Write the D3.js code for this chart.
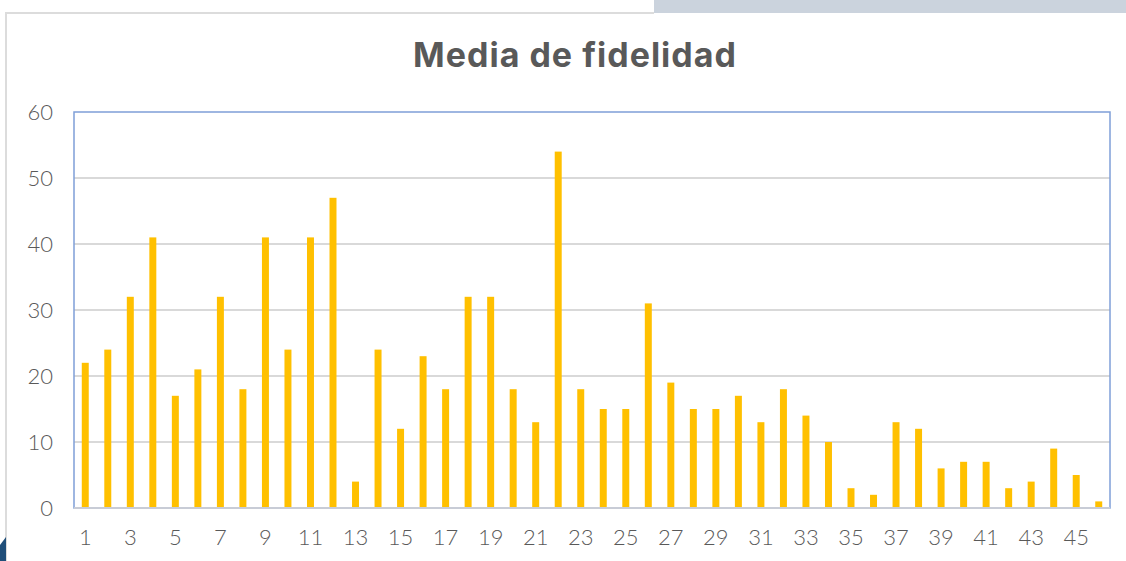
<!DOCTYPE html>
<html>
<head>
<meta charset="utf-8">
<script src="https://cdn.jsdelivr.net/npm/d3@7"></script>
<style>
    html, body {margin: 0; padding: 0; background: #fff;}
    svg {display: block;}
</style>
</head>
<body>
<svg id="chart" width="1126" height="561"></svg>
<script>
// categorias 1..46 y su media
const categories = d3.range(1, 47).map(String);
const values = [22, 24, 32, 41, 17, 21, 32, 18, 41, 24, 41, 47, 4, 24, 12, 23, 18, 32, 32, 18,
    13, 54, 18, 15, 15, 31, 19, 15, 15, 17, 13, 18, 14, 10, 3, 2, 13, 12, 6, 7,
    7, 3, 4, 9, 5, 1];
const yTicks = [0, 10, 20, 30, 40, 50, 60];
const title = "Media de fidelidad";

const svg = d3.select("#chart");
const W = 1126, H = 561;
const marge = {top: 112, right: 16, bottom: 53, left: 74};

// marco de fondo
svg.append("rect").attr("x", 654).attr("y", 0).attr("width", W - 654).attr("height", 13)
    .attr("fill", "#cbd3dd");
svg.append("path")
    .attr("d", "M654,13 L6,13 L6," + H)
    .attr("fill", "none").attr("stroke", "#dcdcdc").attr("stroke-width", 2);
svg.append("path")
    .attr("d", "M0,545 L6,537 L6,561 L0,561 Z")
    .attr("fill", "#1f4e79");

svg.append("text")
    .attr("x", 575).attr("y", 67)
    .attr("text-anchor", "middle")
    .attr("font-family", "Inter, 'Open Sans', sans-serif")
    .attr("font-weight", 700)
    .attr("font-size", 34)
    .attr("letter-spacing", 1)
    .attr("fill", "#595959")
    .text(title);

const x = d3.scaleBand()
    .domain(categories)
    .range([marge.left, W - marge.right])
    .paddingInner(0.69).paddingOuter(0.345);

const y = d3.scaleLinear()
    .domain([0, 60])
    .range([H - marge.bottom, marge.top]);

const g = svg.append("g");

// lineas de cuadricula
g.append("g").selectAll("line")
    .data(yTicks.filter(d => d > 0 && d < 60))
    .join("line")
    .attr("x1", marge.left).attr("x2", W - marge.right)
    .attr("y1", d => y(d)).attr("y2", d => y(d))
    .attr("stroke", "#d9d9d9").attr("stroke-width", 2);

// barras
g.append("g").selectAll("rect")
    .data(values)
    .join("rect")
    .attr("x", (d, i) => x(categories[i]))
    .attr("width", x.bandwidth())
    .attr("y", d => y(d))
    .attr("height", d => y(0) - y(d))
    .attr("fill", "#ffc000");

// borde del area de trazado
g.append("rect")
    .attr("x", marge.left).attr("y", marge.top)
    .attr("width", W - marge.right - marge.left)
    .attr("height", y(0) - marge.top)
    .attr("fill", "none").attr("stroke", "#7f9fd8").attr("stroke-width", 1.5);
g.append("line")
    .attr("x1", marge.left).attr("x2", W - marge.right)
    .attr("y1", y(0)).attr("y2", y(0))
    .attr("stroke", "#c8ccd6").attr("stroke-width", 2);

// ejes
const yAxis = d3.axisLeft(y).tickValues(yTicks).tickSize(0).tickPadding(21);
const xAxis = d3.axisBottom(x).tickValues(categories.filter((d, i) => i % 2 === 0)).tickSize(0).tickPadding(21);

const ya = svg.append("g").attr("transform", "translate(" + marge.left + ",0)").call(yAxis);
const xa = svg.append("g").attr("transform", "translate(0," + y(0) + ")").call(xAxis);
[ya, xa].forEach(a => {
    a.select(".domain").remove();
    a.selectAll("text")
        .attr("font-family", "Lato, 'Open Sans', sans-serif")
        .attr("font-weight", 300)
        .attr("font-size", 22)
        .attr("fill", "#595959");
});
</script>
</body>
</html>
